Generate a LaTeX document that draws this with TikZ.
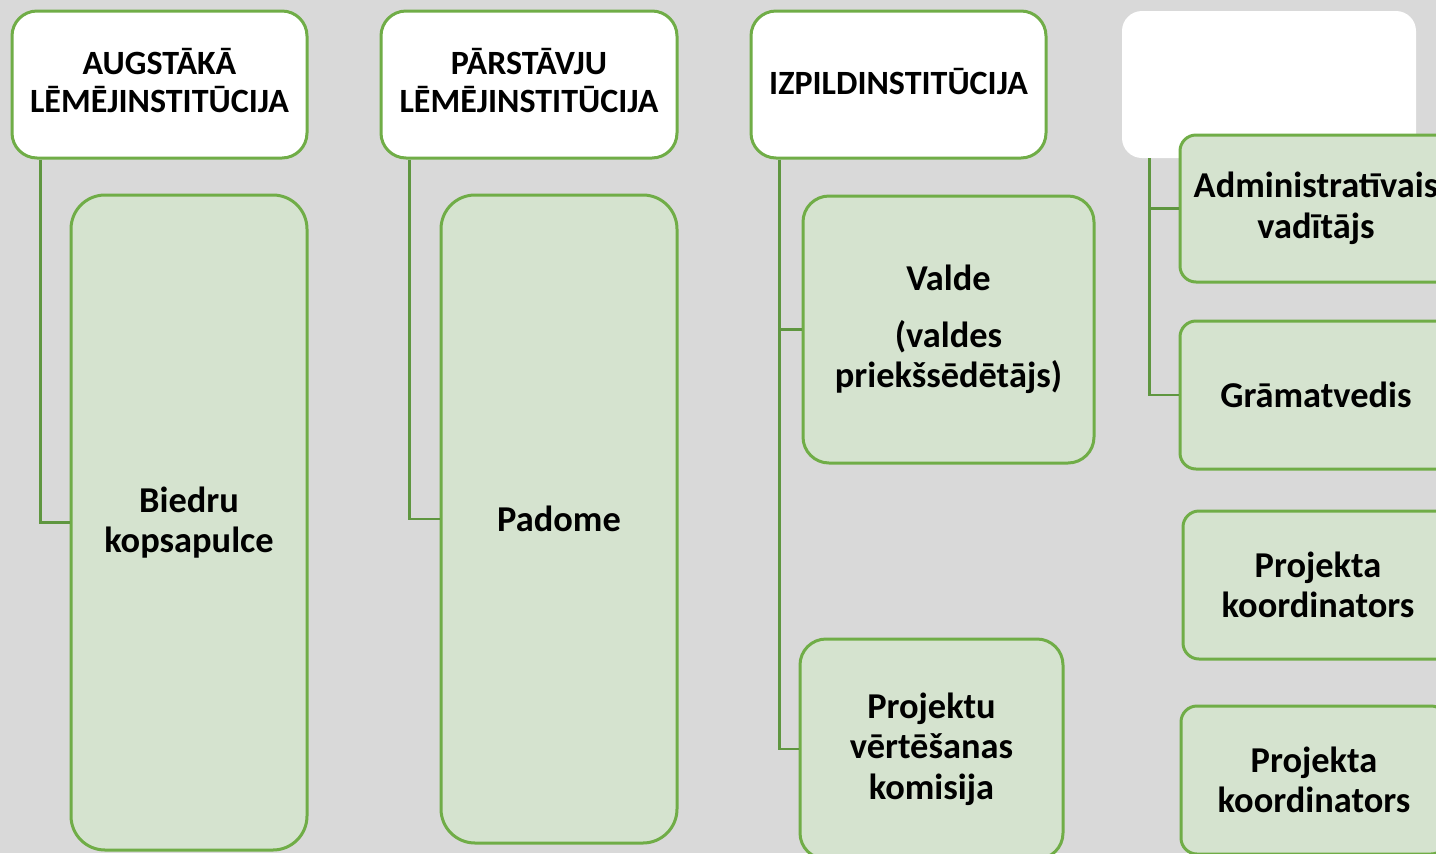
\documentclass[tikz,border=0pt]{standalone}
\usepackage{fontspec}
\setmainfont{Carlito}
\usetikzlibrary{calc}
\definecolor{bg}{HTML}{D9D9D9}
\definecolor{gborder}{HTML}{70AD47}
\definecolor{gfill}{HTML}{D5E3CF}
\definecolor{gline}{HTML}{5F9640}
\tikzset{
  hdr/.style={draw=gborder, line width=1.5pt, fill=white, rounded corners=12.5pt, align=center,
    font=\fontsize{17}{19}\selectfont\bfseries, inner sep=0pt},
  blank/.style={fill=white, rounded corners=10pt, inner sep=0pt},
  gbox/.style={draw=gborder, line width=1.5pt, fill=gfill, align=center,
    font=\fontsize{18.2}{20.3}\selectfont\bfseries, inner sep=0pt},
  conn/.style={draw=gline, line width=1.3pt}
}
\begin{document}
\begin{tikzpicture}[x=0.5pt,y=-0.5pt]
\useasboundingbox (0,0) rectangle (1436,853);
\fill[bg] (0,0) rectangle (1436,853);
\clip (0,0) rectangle (1436,853);
% headers
\node[hdr, minimum width=147.5pt, minimum height=73.5pt] (h1) at (159.5,84.5) {};
\node[font=\fontsize{17}{19}\selectfont\bfseries, align=center, inner sep=0pt] (t1) at (159.5,81) {AUGSTĀKĀ\\LĒMĒJINSTITŪCIJA};
\node[hdr, minimum width=148pt, minimum height=73.5pt] (h2) at (529,84.5) {};
\node[font=\fontsize{17}{19}\selectfont\bfseries, align=center, inner sep=0pt] (t2) at (529,81) {PĀRSTĀVJU\\LĒMĒJINSTITŪCIJA};
\node[hdr, minimum width=147.5pt, minimum height=73.5pt] (h3) at (898.5,84.5) {};
\node[font=\fontsize{17}{19}\selectfont\bfseries, align=center, inner sep=0pt] (t3) at (898.5,82) {IZPILDINSTITŪCIJA};
\node[blank, minimum width=147pt, minimum height=73.5pt] (h4) at (1269,84.5) {};
% column 1
\node[gbox, rounded corners=17pt, minimum width=118pt, minimum height=327.5pt] (biedru) at (189,522.5) {Biedru\\kopsapulce};
% column 2
\node[gbox, rounded corners=17pt, minimum width=118pt, minimum height=324pt] (padome) at (559,519) {Padome};
% column 3
\node[gbox, rounded corners=13pt, minimum width=145.5pt, minimum height=133.5pt] (valde) at (948.5,329.5) {Valde\\[8pt](valdes\\priekšsēdētājs)};
\node[gbox, rounded corners=13pt, minimum width=131.5pt, minimum height=110pt] (pvk) at (931.5,749) {Projektu\\vērtēšanas\\komisija};
% column 4
\node[gbox, rounded corners=8pt, minimum width=136pt, minimum height=73.5pt] (admin) at (1316,208.5) {Administratīvais\\vadītājs};
\node[gbox, rounded corners=8pt, minimum width=136pt, minimum height=74pt] (gram) at (1316,395) {Grāmatvedis};
\node[gbox, rounded corners=8pt, minimum width=135pt, minimum height=74pt] (pk1) at (1318,585) {Projekta\\koordinators};
\node[gbox, rounded corners=8pt, minimum width=133pt, minimum height=74pt] (pk2) at (1314,780) {Projekta\\koordinators};
% connectors
\draw[conn] ([xshift=15pt]h1.south west) |- (biedru.west);
\draw[conn] ([xshift=15pt]h2.south west) |- (padome.west);
\draw[conn] ([xshift=15pt]h3.south west) |- (valde.west);
\draw[conn] ([xshift=15pt]h3.south west) |- (pvk.west);
\draw[conn] ([xshift=14pt]h4.south west) |- (admin.west);
\draw[conn] ([xshift=14pt]h4.south west) |- (gram.west);
\end{tikzpicture}
\end{document}
